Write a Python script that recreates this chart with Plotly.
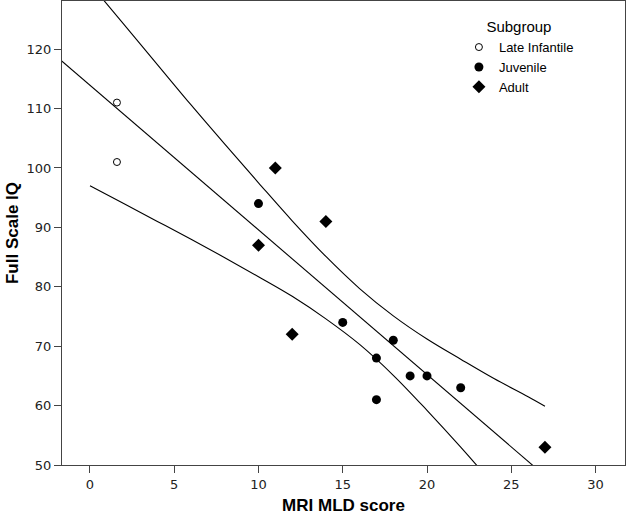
import plotly.graph_objects as go

# ---- data ----
late_x = [1.6, 1.6]
late_y = [111, 101]

juv_x = [10, 15, 18, 17, 19, 20, 22, 17]
juv_y = [94, 74, 71, 68, 65, 65, 63, 61]

adult_x = [11, 10, 14, 12, 27]
adult_y = [100, 87, 91, 72, 53]

# fitted line (read at the plot edges)
fit_x = [-2, 32]
fit_y = [118.8, 36.0]

# confidence band curves
band_x = [0, 2, 4, 6, 8, 10, 12, 14, 16, 18, 20, 22, 24, 26, 27]
band_upper = [131.0, 124.2, 117.4, 110.6, 104.0, 97.5, 91.1, 85.1, 79.7, 75.1,
              71.2, 67.8, 64.5, 61.5, 59.9]
band_lower = [97.0, 94.0, 91.0, 88.0, 84.9, 81.7, 78.4, 74.6, 70.3, 65.1,
              59.2, 53.0, 46.5, 39.7, 36.5]

x_ticks = [0, 5, 10, 15, 20, 25, 30]
y_ticks = [50, 60, 70, 80, 90, 100, 110, 120]

fig = go.Figure()

line_style = dict(color="black", width=1.1)
fig.add_trace(go.Scatter(x=fit_x, y=fit_y, mode="lines", line=line_style,
                         showlegend=False, hoverinfo="skip"))
fig.add_trace(go.Scatter(x=band_x, y=band_upper, mode="lines",
                         line=dict(shape="spline", smoothing=1.0, **line_style),
                         showlegend=False, hoverinfo="skip"))
fig.add_trace(go.Scatter(x=band_x, y=band_lower, mode="lines",
                         line=dict(shape="spline", smoothing=1.0, **line_style),
                         showlegend=False, hoverinfo="skip"))

fig.add_trace(go.Scatter(x=late_x, y=late_y, mode="markers", name="Late Infantile",
                         marker=dict(symbol="circle-open", size=7, color="black",
                                     line=dict(width=1, color="black"))))
fig.add_trace(go.Scatter(x=juv_x, y=juv_y, mode="markers", name="Juvenile",
                         marker=dict(symbol="circle", size=9, color="black")))
fig.add_trace(go.Scatter(x=adult_x, y=adult_y, mode="markers", name="Adult",
                         marker=dict(symbol="diamond", size=10, color="black")))

axis_common = dict(
    showgrid=False, zeroline=False, showline=True, linecolor="#444444", linewidth=1,
    mirror=True, ticks="outside", ticklen=7, tickcolor="#444444", tickwidth=1,
    tickfont=dict(family="DejaVu Sans", size=13, color="#222222"),
    automargin=False,
)

fig.update_layout(
    width=626, height=515,
    margin=dict(l=62, r=1, t=1, b=50),
    paper_bgcolor="white", plot_bgcolor="white",
    xaxis=dict(range=[-1.66, 31.75], tickvals=x_ticks,
               title=dict(text="MRI MLD score", standoff=12,
                          font=dict(family="Liberation Sans", size=17, color="black", weight="bold")),
               **axis_common),
    yaxis=dict(range=[50, 128.1], tickvals=y_ticks,
               title=dict(text="Full Scale IQ", standoff=3,
                          font=dict(family="Liberation Sans", size=17, color="black", weight="bold")),
               **axis_common),
    legend=dict(x=0.705, y=0.975, xanchor="left", yanchor="top",
                bgcolor="rgba(0,0,0,0)",
                font=dict(family="Liberation Sans", size=13, color="black"),
                title=dict(text="Subgroup", side="top center",
                           font=dict(family="Liberation Sans", size=15, color="black")),
                tracegroupgap=0),
)

fig.write_html("out.html", config={"displayModeBar": False},
               post_script="document.body.style.margin='0';document.body.style.overflow='hidden';")
